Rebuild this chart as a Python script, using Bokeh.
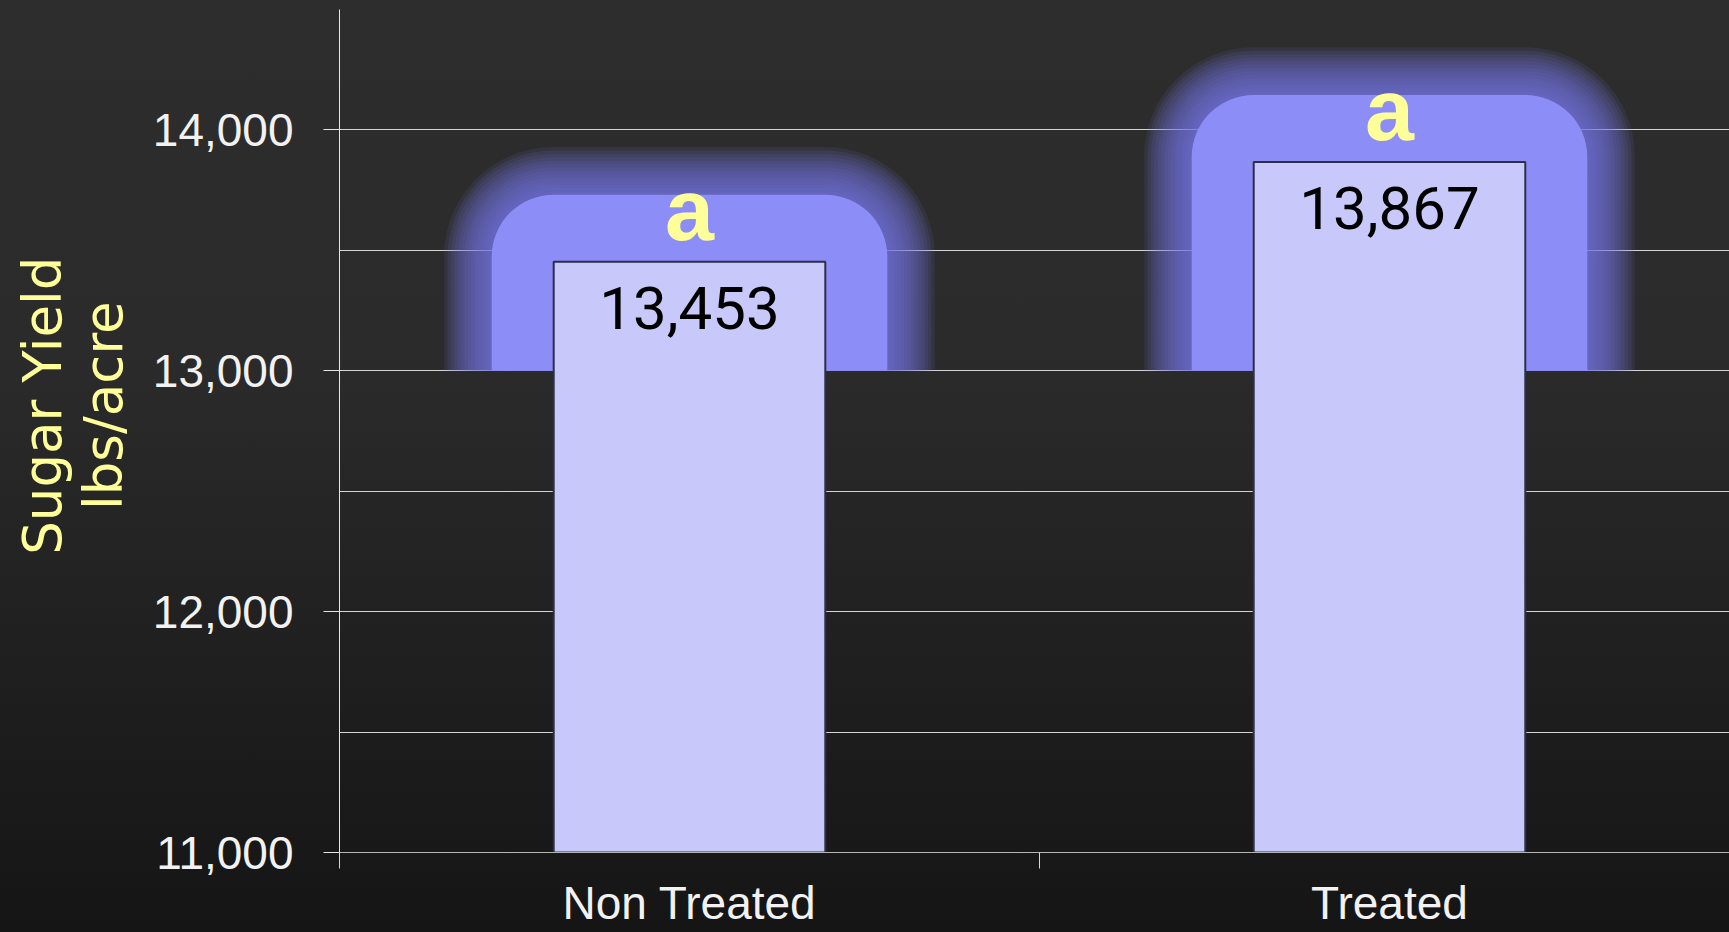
from bokeh.plotting import figure
from bokeh.models import Range1d, FixedTicker, NumeralTickFormatter, ColumnDataSource
from bokeh.core.properties import value
from bokeh.embed import file_html
from bokeh.resources import INLINE

# Sugar yield per treatment (lbs/acre)
categories = ["Non Treated", "Treated"]
sugar_yield = [13453, 13867]
letters = ["a", "a"]

y_ticks = [11000, 12000, 13000, 14000]
grid_ticks = [11000, 11500, 12000, 12500, 13000, 13500, 14000, 14500]

# layout / styling constants
W, H = 1729, 932
LEFT, TOP, BOTTOM = 339, 9, 80
PX_PER_CAT = 700.0
X_END = (W - LEFT) / PX_PER_CAT
Y0, Y1 = 11000, 14500
PX_PER_UNIT = (H - TOP - BOTTOM) / (Y1 - Y0)
BAR_W = 0.388
GLOW_BASE = 13000
NBSP = "\u00a0"

xs = [i + 0.5 for i in range(len(categories))]

p = figure(width=W, height=H, x_range=Range1d(0, X_END), y_range=Range1d(Y0, Y1),
           output_backend="svg", toolbar_location=None,
           min_border_left=LEFT, min_border_right=0, min_border_top=TOP,
           min_border_bottom=BOTTOM)
p.styles = {"background": "linear-gradient(180deg, #2d2d2d 0%, #2b2b2b 38%, #151515 100%)"}
p.background_fill_alpha = 0
p.border_fill_alpha = 0
p.outline_line_color = None

# grid
p.xgrid.visible = False
p.ygrid.ticker = FixedTicker(ticks=grid_ticks)
p.ygrid.grid_line_color = "#d4d4d4"
p.ygrid.grid_line_width = 1

# y axis
ya = p.yaxis[0]
ya.ticker = FixedTicker(ticks=y_ticks, minor_ticks=[])
ya.formatter = NumeralTickFormatter(format="0,0")
ya.axis_line_color = "#e6e6e6"
ya.major_tick_line_color = "#e6e6e6"
ya.major_tick_out = 16
ya.major_tick_in = 0
ya.minor_tick_line_color = None
ya.major_label_text_font = "Liberation Sans"
ya.major_label_text_font_size = "46px"
ya.major_label_text_color = "#f2f2f2"
ya.major_label_standoff = 30
# leading no-break spaces lift the rotated title a little above the frame centre
ya.axis_label = NBSP * 3 + "Sugar Yield\n" + NBSP * 3 + "lbs/acre"
ya.axis_label_text_font = "DejaVu Sans"
ya.axis_label_text_font_size = "53px"
ya.axis_label_text_font_style = "normal"
ya.axis_label_text_color = "#FFFF99"
ya.axis_label_text_line_height = 1.0
ya.axis_label_standoff = 16

# x axis: labels at category centres, ticks on category boundaries
xa = p.xaxis[0]
xa.ticker = FixedTicker(ticks=xs, minor_ticks=[float(i) for i in range(len(categories) + 1)])
xa.major_label_overrides = {x: c for x, c in zip(xs, categories)}
xa.major_tick_line_color = None
xa.major_tick_out = 0
xa.minor_tick_line_color = "#d8d8d8"
xa.minor_tick_out = 16
xa.minor_tick_in = 0
xa.axis_line_color = "#b4b4b4"
xa.major_label_text_font = "Liberation Sans"
xa.major_label_text_font_size = "46px"
xa.major_label_text_color = "#f2f2f2"
xa.major_label_standoff = 8

# soft blue halo behind each bar top
core_px_x, core_px_y, core_r = 62, 67, 62
layers = 14
step = 3.4
for k in range(layers, 0, -1):
    ex = core_px_x + k * step
    ey = core_px_y + k * step
    src = ColumnDataSource(dict(
        left=[x - BAR_W / 2 - ex / PX_PER_CAT for x in xs],
        right=[x + BAR_W / 2 + ex / PX_PER_CAT for x in xs],
        top=[v + ey / PX_PER_UNIT for v in sugar_yield],
        bottom=[GLOW_BASE] * len(xs),
    ))
    r = int(core_r + k * step)
    p.quad(left="left", right="right", top="top", bottom="bottom", source=src,
           fill_color="#7a7ae6", fill_alpha=0.11, line_color=None,
           border_radius=(r, r, 0, 0))

core = ColumnDataSource(dict(
    left=[x - BAR_W / 2 - core_px_x / PX_PER_CAT for x in xs],
    right=[x + BAR_W / 2 + core_px_x / PX_PER_CAT for x in xs],
    top=[v + core_px_y / PX_PER_UNIT for v in sugar_yield],
    bottom=[GLOW_BASE] * len(xs),
))
p.quad(left="left", right="right", top="top", bottom="bottom", source=core,
       fill_color="#8f8ff9", fill_alpha=0.96, line_color=None,
       border_radius=(core_r, core_r, 0, 0))

# bars
src = ColumnDataSource(dict(
    x=xs, top=sugar_yield,
    label=[f"{v:,}" for v in sugar_yield],
    letter=letters,
))
p.vbar(x="x", top="top", bottom=Y0, width=BAR_W, source=src,
       fill_color="#c8c8fa", line_color="#2e2e48", line_width=2)

# value labels inside the bar tops
p.text(x="x", y="top", text="label", source=src, y_offset=46,
       text_align="center", text_baseline="alphabetic",
       text_font=value("Roboto"), text_font_size="60px", text_color="#000000")

# significance letters above the bars
p.text(x="x", y="top", text="letter", source=src, y_offset=-52,
       text_align="center", text_baseline="alphabetic",
       text_font=value("Liberation Sans"), text_font_style="bold",
       text_font_size="88px", text_color="#FFFF99")

open("out.html", "w").write(file_html(p, INLINE))
